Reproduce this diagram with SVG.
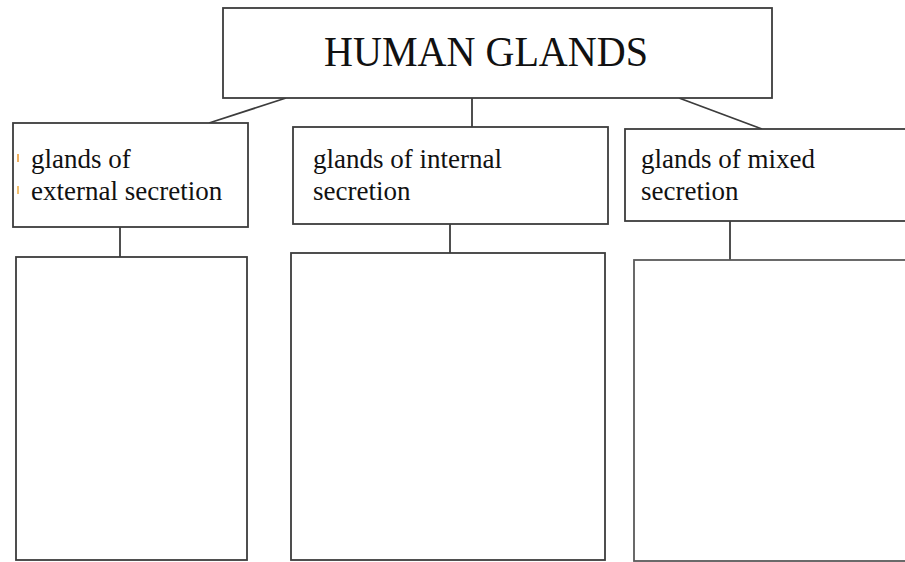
<svg xmlns="http://www.w3.org/2000/svg" width="905" height="562" viewBox="0 0 905 562">
  <style>
    .box { fill: #ffffff; stroke: #3c3c3c; stroke-width: 1.8; }
    .link { fill: none; stroke: #3c3c3c; stroke-width: 1.8; }
    .title { font-family: "Liberation Serif", "Times New Roman", serif; font-size: 42px; fill: #111; }
    .label { font-family: "Liberation Serif", "Times New Roman", serif; font-size: 27px; fill: #111; }
  </style>
  <rect x="0" y="0" width="905" height="562" fill="#ffffff"/>

  <!-- connectors -->
  <g id="connectors">
    <line class="link" x1="286" y1="98" x2="209" y2="123"/>
    <line class="link" x1="472" y1="98" x2="472" y2="127"/>
    <line class="link" x1="679" y1="98" x2="762" y2="129"/>
    <line class="link" x1="120" y1="227" x2="120" y2="257"/>
    <line class="link" x1="450" y1="224" x2="450" y2="253"/>
    <line class="link" x1="730" y1="221" x2="730" y2="263"/>
  </g>

  <!-- root -->
  <g id="human-glands">
    <rect class="box" x="223" y="8" width="549" height="90"/>
    <text class="title" x="324" y="66" textLength="324" lengthAdjust="spacingAndGlyphs">HUMAN GLANDS</text>
  </g>

  <!-- categories -->
  <g id="external-secretion">
    <rect class="box" x="13" y="123" width="235" height="104"/>
    <rect x="17" y="154" width="2" height="8" fill="#f0b060"/>
    <rect x="17" y="186" width="2" height="8" fill="#f3c070"/>
    <text class="label" x="31" y="168">glands of</text>
    <text class="label" x="31" y="200">external secretion</text>
  </g>

  <g id="internal-secretion">
    <rect class="box" x="293" y="127" width="315" height="97"/>
    <text class="label" x="313" y="168">glands of internal</text>
    <text class="label" x="313" y="200">secretion</text>
  </g>

  <g id="mixed-secretion">
    <rect class="box" x="625" y="129" width="300" height="92"/>
    <text class="label" x="641" y="168">glands of mixed</text>
    <text class="label" x="641" y="200">secretion</text>
  </g>

  <!-- empty answer boxes -->
  <g id="external-list">
    <rect class="box" x="16" y="257" width="231" height="303"/>
  </g>
  <g id="internal-list">
    <rect class="box" x="291" y="253" width="314" height="307"/>
  </g>
  <g id="mixed-list">
    <rect class="box" x="634" y="260" width="290" height="301" style="stroke: #5a5a5a;"/>
  </g>
</svg>
